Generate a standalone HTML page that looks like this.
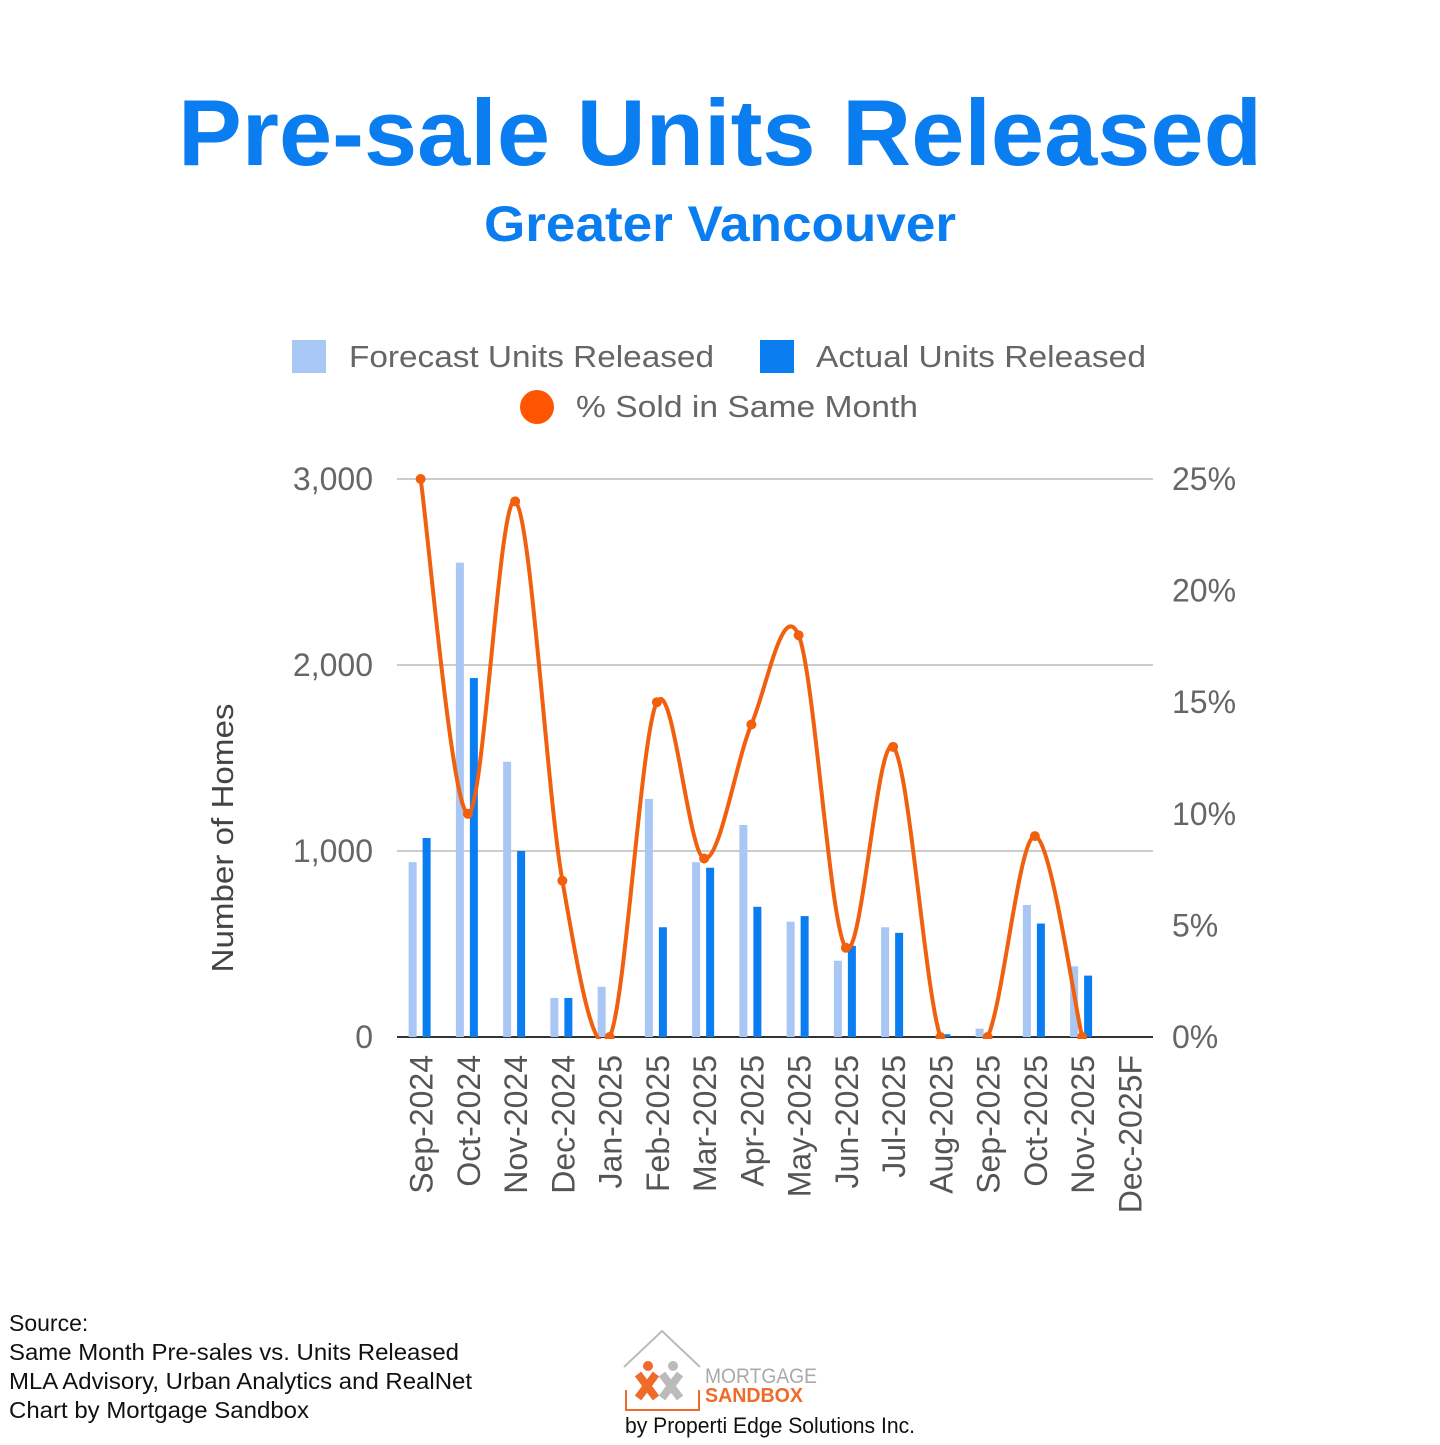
<!DOCTYPE html>
<html><head><meta charset="utf-8"><style>
body{margin:0;width:1440px;height:1440px;background:#fff;overflow:hidden;font-family:"Liberation Sans",sans-serif;}
</style></head><body>
<svg id="c" width="1440" height="1440" xmlns="http://www.w3.org/2000/svg">
<defs><clipPath id="plotclip"><rect x="390" y="470" width="770" height="569"/></clipPath></defs>
<text x="720" y="165" text-anchor="middle" font-size="94" font-weight="bold" fill="#0a7df0" textLength="1084" lengthAdjust="spacingAndGlyphs">Pre-sale Units Released</text>
<text x="720" y="241" text-anchor="middle" font-size="50" font-weight="bold" fill="#0a7df0" textLength="472" lengthAdjust="spacingAndGlyphs">Greater Vancouver</text>
<g font-size="31" fill="#666">
<g><rect x="292" y="340" width="34" height="33" fill="#a8c7f5"/><text x="349" y="367" textLength="365" lengthAdjust="spacingAndGlyphs">Forecast Units Released</text></g>
<g><rect x="760" y="340" width="34" height="33" fill="#0a7df0"/><text x="816" y="367" textLength="330" lengthAdjust="spacingAndGlyphs">Actual Units Released</text></g>
<g><circle cx="537" cy="407" r="17" fill="#ff5500"/><text x="576" y="417" textLength="342" lengthAdjust="spacingAndGlyphs">% Sold in Same Month</text></g>
</g>
<text transform="translate(233,838) rotate(-90)" text-anchor="middle" font-size="31" fill="#444" textLength="269" lengthAdjust="spacingAndGlyphs">Number of Homes</text>
<g id="grid"></g><g id="bars"></g><g id="line" clip-path="url(#plotclip)"></g><g id="xl"></g>
<g font-size="23" fill="#111">
<text x="9" y="1331">Source:</text><text x="9" y="1360" textLength="450" lengthAdjust="spacingAndGlyphs">Same Month Pre-sales vs. Units Released</text>
<text x="9" y="1389" textLength="463" lengthAdjust="spacingAndGlyphs">MLA Advisory, Urban Analytics and RealNet</text><text x="9" y="1418" textLength="300" lengthAdjust="spacingAndGlyphs">Chart by Mortgage Sandbox</text></g>
<g>
<polyline points="624,1367 662,1331 700,1367" fill="none" stroke="#bbb" stroke-width="2"/>
<path d="M638,1374 L656,1398 M656,1374 L638,1398" stroke="#f06a2a" stroke-width="8"/>
<circle cx="648" cy="1366" r="5" fill="#f06a2a"/>
<path d="M662,1374 L680,1398 M680,1374 L662,1398" stroke="#bbb" stroke-width="8"/>
<circle cx="673" cy="1366" r="5" fill="#bbb"/>
<polyline points="626,1390 626,1410 699,1410 699,1390" fill="none" stroke="#f06a2a" stroke-width="2"/>
<text x="705" y="1383" font-size="21" fill="#aaa" textLength="112" lengthAdjust="spacingAndGlyphs">MORTGAGE</text>
<text x="705" y="1402" font-size="20" font-weight="bold" fill="#f06a2a" textLength="98" lengthAdjust="spacingAndGlyphs">SANDBOX</text>
<text x="625" y="1433" font-size="22" fill="#111" textLength="290" lengthAdjust="spacingAndGlyphs">by Properti Edge Solutions Inc.</text>
</g>
</svg>
<script>
const categories=["Sep-2024","Oct-2024","Nov-2024","Dec-2024","Jan-2025","Feb-2025","Mar-2025","Apr-2025","May-2025","Jun-2025","Jul-2025","Aug-2025","Sep-2025","Oct-2025","Nov-2025","Dec-2025F"];
const forecastUnits=[940,2550,1480,210,270,1280,940,1140,620,410,590,0,45,710,380,0];
const actualUnits=[1070,1930,1000,210,0,590,910,700,650,490,560,15,0,610,330,null];
const pctSold=[25,10,24,7,0,15,8,14,18,4,13,0,0,9,0,null];
const leftTicks=[0,1000,2000,3000];
const leftTickLabels=["0","1,000","2,000","3,000"];
const rightTicks=[0,5,10,15,20,25];
const rightTickLabels=["0%","5%","10%","15%","20%","25%"];
const NS="http://www.w3.org/2000/svg";
const X0=397,X1=1153,Y0=1037,Y1=479;
const step=(X1-X0)/categories.length;
const xC=i=>X0+step*(i+0.5);
const yL=v=>Y0-(v/3000)*(Y0-Y1);
const yR=v=>Y0-(v/25)*(Y0-Y1);
function mk(t,a,p){const e=document.createElementNS(NS,t);for(const k in a)e.setAttribute(k,a[k]);p.appendChild(e);return e;}
const grid=document.getElementById('grid');
leftTicks.forEach((v,i)=>{
 const l=mk('line',{x1:X0,x2:X1,y1:yL(v),y2:yL(v),stroke:v===0?'#333':'#ccc','stroke-width':2},grid);
 
 
 const t=mk('text',{x:373,y:yL(v)+11,'text-anchor':'end','font-size':32,fill:'#666'},grid);t.textContent=leftTickLabels[i];
 
 
});
rightTicks.forEach((v,i)=>{
 const t=mk('text',{x:1172,y:yR(v)+11,'font-size':32,fill:'#666'},grid);t.textContent=rightTickLabels[i];
 
 
});
const bars=document.getElementById('bars');
categories.forEach((c,i)=>{
 if(forecastUnits[i]!=null){const r=mk('rect',{x:xC(i)-12,y:yL(forecastUnits[i]),width:8,height:Y0-yL(forecastUnits[i]),fill:'#a8c7f5'},bars);
 
 }
 if(actualUnits[i]!=null){const r=mk('rect',{x:xC(i)+2,y:yL(actualUnits[i]),width:8,height:Y0-yL(actualUnits[i]),fill:'#0a7df0'},bars);
 
 }
 const t=mk('text',{transform:`translate(${xC(i)+12},1055) rotate(-90)`,'text-anchor':'end','font-size':32,fill:'#555'},document.getElementById('xl'));
 t.textContent=c;
 
 
});
const pts=[];pctSold.forEach((v,i)=>{if(v!=null)pts.push([xC(i),yR(v)]);});
let d=`M${pts[0][0]},${pts[0][1]}`;
for(let i=0;i<pts.length-1;i++){
 const p0=pts[i-1]||pts[i],p1=pts[i],p2=pts[i+1],p3=pts[i+2]||p2,k=1/6;
 d+=` C${p1[0]+(p2[0]-p0[0])*k},${p1[1]+(p2[1]-p0[1])*k} ${p2[0]-(p3[0]-p1[0])*k},${p2[1]-(p3[1]-p1[1])*k} ${p2[0]},${p2[1]}`;
}
const lg=document.getElementById('line');
const path=mk('path',{d:d,fill:'none',stroke:'#f0600e','stroke-width':4},lg);


pts.forEach(p=>{const c=mk('circle',{cx:p[0],cy:p[1],r:5,fill:'#f0600e'},lg);
 
 });
</script>
</body></html>
